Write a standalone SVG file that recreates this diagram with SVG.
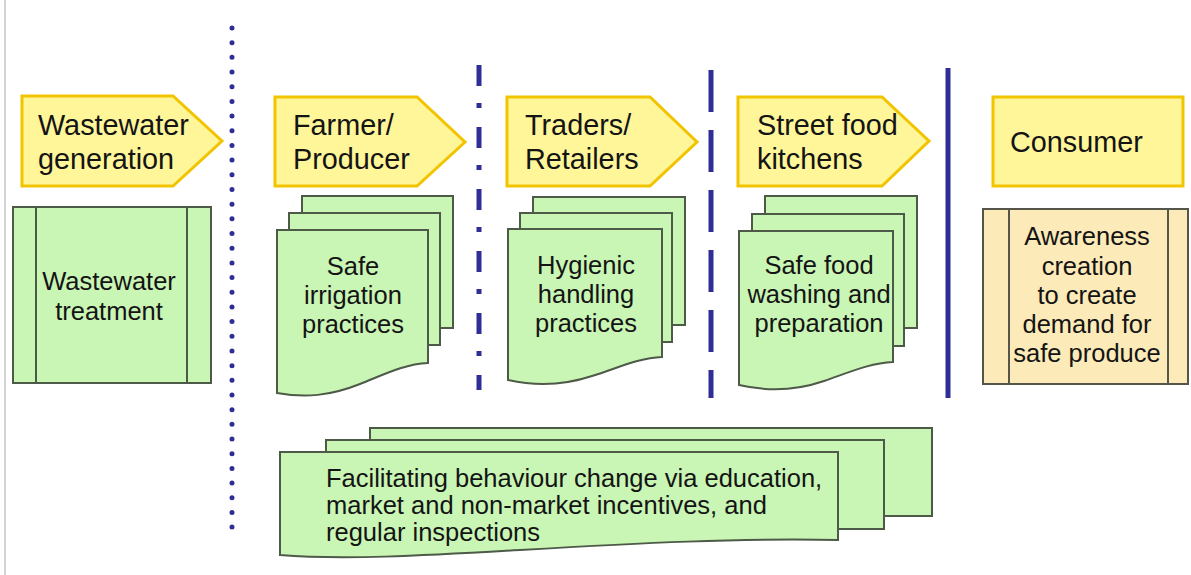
<svg xmlns="http://www.w3.org/2000/svg" width="1191" height="575" viewBox="0 0 1191 575">
<style>
text{font-family:"Liberation Sans",Arial,sans-serif;fill:#141414}
.h{font-size:28.8px}
.b{font-size:25.5px}
.c{text-anchor:middle}
.stage{fill:#FFF69A;stroke:#F2C400;stroke-width:3;stroke-linejoin:miter}
.doc{fill:#C9F5B5;stroke:#4E5A48;stroke-width:2}
.proc{fill:#C9F5B5;stroke:#4E5A48;stroke-width:2}
.aw{fill:#FCEAB8;stroke:#55554A;stroke-width:2}
.div{stroke:#2E2E96;stroke-width:5;fill:none}
</style>
<rect width="1191" height="575" fill="#ffffff"/>
<line x1="5" y1="0" x2="5" y2="575" stroke="#c4c4c4" stroke-width="1.5"/>

<g id="dividers">
<line class="div" x1="232" y1="28" x2="232" y2="528" stroke-width="6.5" stroke-linecap="round" stroke-dasharray="0 14.68"/>
<line class="div" x1="479" y1="65" x2="479" y2="390" stroke-dasharray="21 17 5 19"/>
<line class="div" x1="711" y1="70" x2="711" y2="398" stroke-dasharray="42 18"/>
<line class="div" x1="948" y1="68" x2="948" y2="398"/>
</g>

<g id="wastewater-generation">
<path class="stage" d="M22,96 H173 L222,141 L173,186 H22 Z"/>
<text class="h" x="38" y="135">Wastewater</text>
<text class="h" x="38" y="169">generation</text>
</g>

<g id="wastewater-treatment">
<rect class="proc" x="13" y="207" width="198" height="176"/>
<line class="proc" x1="36" y1="207" x2="36" y2="383"/>
<line class="proc" x1="187" y1="207" x2="187" y2="383"/>
<text class="b c" x="109" y="290">Wastewater</text>
<text class="b c" x="109" y="320">treatment</text>
</g>

<g id="farmer-producer">
<path class="stage" d="M275,97 H417 L465,142 L417,186 H275 Z"/>
<text class="h" x="293" y="135">Farmer/</text>
<text class="h" x="293" y="169">Producer</text>
</g>

<g id="safe-irrigation">
<rect class="doc" x="302" y="196" width="151" height="132"/>
<rect class="doc" x="289" y="213" width="151" height="132"/>
<path class="doc" d="M277,230 H428 V363 C405,364 385,374 360,384 C330,396 305,398 277,393 Z"/>
<text class="b c" x="353" y="275">Safe</text>
<text class="b c" x="353" y="304">irrigation</text>
<text class="b c" x="353" y="333">practices</text>
</g>

<g id="traders-retailers">
<path class="stage" d="M507,97 H650 L697,142 L650,186 H507 Z"/>
<text class="h" x="525" y="135">Traders/</text>
<text class="h" x="525" y="169">Retailers</text>
</g>

<g id="hygienic-handling">
<rect class="doc" x="533" y="197" width="152" height="128"/>
<rect class="doc" x="520" y="213" width="152" height="129"/>
<path class="doc" d="M508,229 H662 V357 C638,358 618,368 592,376 C562,386 535,386 508,380 Z"/>
<text class="b c" x="586" y="274">Hygienic</text>
<text class="b c" x="586" y="303">handling</text>
<text class="b c" x="586" y="332">practices</text>
</g>

<g id="street-food-kitchens">
<path class="stage" d="M738,97 H882 L929,141 L882,186 H738 Z"/>
<text class="h" x="757" y="135">Street food</text>
<text class="h" x="757" y="169">kitchens</text>
</g>

<g id="safe-food-washing">
<rect class="doc" x="765" y="196" width="152" height="132"/>
<rect class="doc" x="752" y="214" width="152" height="132"/>
<path class="doc" d="M739,231 H893 V362 C870,363 850,372 824,381 C795,391 765,391 739,385 Z"/>
<text class="b c" x="819" y="274">Safe food</text>
<text class="b c" x="819" y="303">washing and</text>
<text class="b c" x="819" y="332">preparation</text>
</g>

<g id="consumer">
<rect class="stage" x="993" y="97" width="190" height="89"/>
<text class="h" x="1010" y="152">Consumer</text>
</g>

<g id="awareness-creation">
<rect class="aw" x="983" y="209" width="205" height="175"/>
<line class="aw" x1="1009" y1="209" x2="1009" y2="384"/>
<line class="aw" x1="1168" y1="209" x2="1168" y2="384"/>
<text class="b c" x="1087" y="245">Awareness</text>
<text class="b c" x="1087" y="275">creation</text>
<text class="b c" x="1087" y="304">to create</text>
<text class="b c" x="1087" y="333">demand for</text>
<text class="b c" x="1087" y="362">safe produce</text>
</g>

<g id="behaviour-change">
<rect class="doc" x="370" y="428" width="562" height="88"/>
<rect class="doc" x="326" y="440" width="558" height="89"/>
<path class="doc" d="M280,452 H838 V540 C740,538 640,543 520,550 C420,556 340,560 280,555 Z"/>
<text class="b" x="326" y="487">Facilitating behaviour change via education,</text>
<text class="b" x="326" y="514">market and non-market incentives, and</text>
<text class="b" x="326" y="541">regular inspections</text>
</g>
</svg>
